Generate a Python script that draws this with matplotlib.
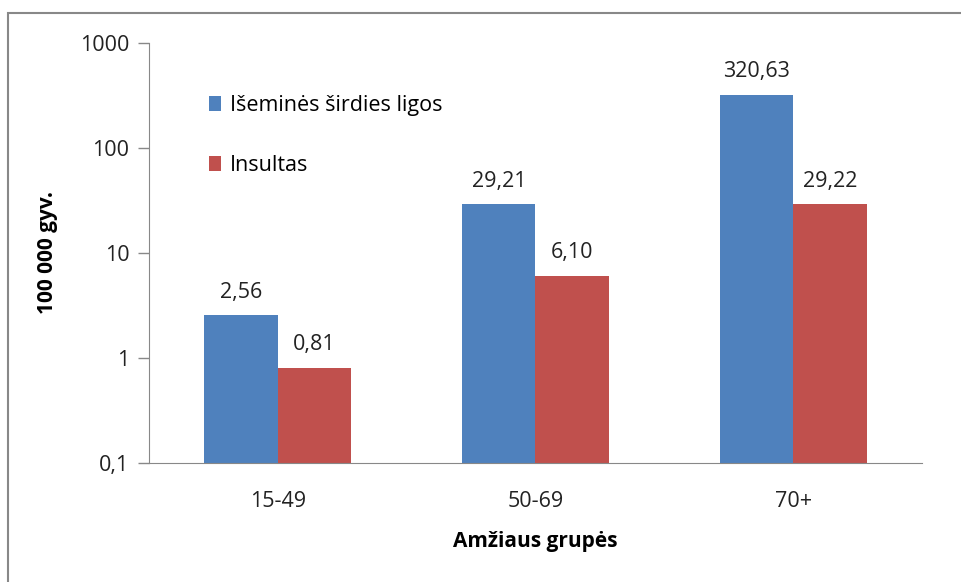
import numpy as np
import matplotlib
matplotlib.use('Agg')
import matplotlib.pyplot as plt
from matplotlib.patches import Rectangle
from matplotlib.ticker import FixedLocator, FixedFormatter, NullLocator

plt.rcParams['font.family'] = ['Open Sans', 'DejaVu Sans']

# Data
groups = ['15-49', '50-69', '70+']
ischemic = [2.56, 29.21, 320.63]
stroke = [0.81, 6.10, 29.22]
series_names = ['Išeminės širdies ligos', 'Insultas']
ytick_vals = [0.1, 1, 10, 100, 1000]
ytick_labels = ['0,1', '1', '10', '100', '1000']

blue = '#4F81BD'
red = '#C0504D'

fig = plt.figure(figsize=(9.61, 5.82), dpi=100)
ax = fig.add_axes([0.155, 0.2045, 0.8044, 0.7216])

x = np.arange(len(groups))
w = 0.285
b1 = ax.bar(x - w / 2, ischemic, w, color=blue, label=series_names[0])
b2 = ax.bar(x + w / 2, stroke, w, color=red, label=series_names[1])

ax.set_yscale('log')
ax.set_ylim(0.1, 1000)
ax.set_xlim(-0.5, len(groups) - 0.5)
ax.yaxis.set_major_locator(FixedLocator(ytick_vals))
ax.yaxis.set_major_formatter(FixedFormatter(ytick_labels))
ax.yaxis.set_minor_locator(NullLocator())
ax.set_xticks(x)
ax.set_xticklabels(groups)
ax.tick_params(axis='x', length=0, pad=20, labelsize=15.5, colors='#222222')
ax.tick_params(axis='y', length=8, width=1, color='#888888', pad=6,
               labelsize=15.5, colors='#222222')

for s in ['top', 'right']:
    ax.spines[s].set_visible(False)
ax.spines['left'].set_color('#888888')
ax.spines['bottom'].set_color('#888888')

def fmt(v):
    return ('%.2f' % v).replace('.', ',')

for bars in (b1, b2):
    for r in bars:
        v = r.get_height()
        ax.annotate(fmt(v), (r.get_x() + r.get_width() / 2, v),
                    xytext=(0, 9), textcoords='offset points',
                    ha='center', va='bottom', fontsize=15.5, color='#222222')

ax.set_xlabel('Amžiaus grupės', fontsize=15, fontweight='bold', labelpad=14)
ax.set_ylabel('100 000 gyv.', fontsize=15, fontweight='bold', labelpad=16)

ax.legend(loc='upper left', bbox_to_anchor=(0.053, 0.922), frameon=False,
          fontsize=15.5, handlelength=0.55, handleheight=0.7,
          handletextpad=0.4, labelspacing=1.8)

# chart area border (top and left visible)
fig.patches.append(Rectangle((8 / 961, -0.1), 1.1, 1 - 13 / 582 + 0.1,
                             transform=fig.transFigure, fill=False,
                             edgecolor='#888888', linewidth=1.5))

fig.savefig('out.png', dpi=100)
